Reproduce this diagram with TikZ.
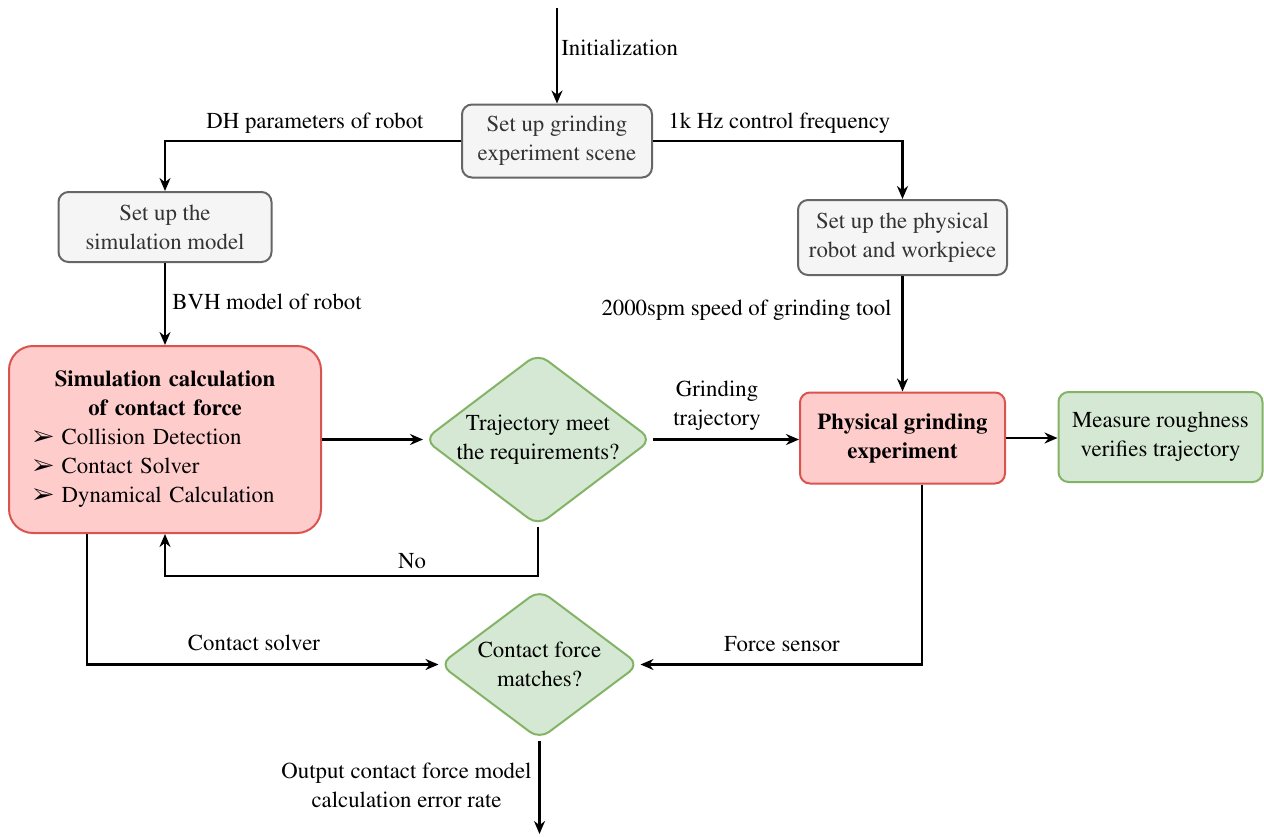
\documentclass[tikz,border=0pt]{standalone}
\usepackage[T1]{fontenc}
\renewcommand{\rmdefault}{ptm}
\usepackage{pifont}
\usetikzlibrary{shapes.geometric,arrows.meta}

\definecolor{greyfill}{HTML}{F5F5F5}
\definecolor{greyline}{HTML}{666666}
\definecolor{greytext}{HTML}{333333}
\definecolor{redfill}{HTML}{FFCCCC}
\definecolor{redline}{HTML}{D9534F}
\definecolor{greenfill}{HTML}{D5E8D4}
\definecolor{greenline}{HTML}{82B366}

\newcommand{\itemarrow}{\ding{226}\ }

\begin{document}
\begin{tikzpicture}[
  x = 0.5pt, y = -0.5pt,
  every node/.style = {font = \rmfamily\fontsize{11.4}{14.5}\selectfont},
  greybox/.style = {draw = greyline, fill = greyfill, text = greytext,
                    rounded corners = 5pt, align = center, line width = 1pt},
  redbox/.style = {draw = redline, fill = redfill, rounded corners = 5pt,
                   align = center, line width = 1pt},
  greenbox/.style = {draw = greenline, fill = greenfill, rounded corners = 5pt,
                     align = center, line width = 1pt},
  decision/.style = {diamond, draw = greenline, fill = greenfill, align = center,
                     rounded corners = 6pt, inner sep = 0pt, line width = 1pt},
  flow/.style = {draw, line width = 1.1pt, -{Stealth[length = 6.5pt, width = 5.5pt]}},
  lbl/.style = {inner sep = 0pt},
  ]
  \useasboundingbox (0,0) rectangle (1264,836);

  % boxes
  \node[greybox, minimum width = 95pt, minimum height = 36.5pt] (scene) at (557,141)
    {Set up grinding\\experiment scene};
  \node[greybox, minimum width = 106.5pt, minimum height = 35pt] (simmodel) at (165,227)
    {Set up the\\simulation model};
  \node[greybox, minimum width = 104.5pt, minimum height = 37.5pt] (physical) at (902.5,237.5)
    {Set up the physical\\robot and workpiece};
  \node[redbox, rounded corners = 12pt, minimum width = 156pt, minimum height = 93.5pt,
        text width = 132pt, align = left] (sim) at (165,439.5)
    {\centering\textbf{Simulation calculation}\\\textbf{of contact force}\par
     \raggedright\itemarrow Collision Detection\\
     \itemarrow Contact Solver\\
     \itemarrow Dynamical Calculation\par};
  \node[redbox, minimum width = 102.5pt, minimum height = 45.5pt] (exper) at (902.5,438)
    {\textbf{Physical grinding}\\\textbf{experiment}};
  \node[greenbox, minimum width = 102pt, minimum height = 45pt] (measure) at (1160.5,437)
    {Measure roughness\\verifies trajectory};
  \node[decision, aspect = 1.32, minimum width = 111pt, minimum height = 85pt] (traj) at (538,439.5)
    {Trajectory meet\\the requirements?};
  \node[decision, aspect = 1.33, minimum width = 100pt, minimum height = 75pt] (contact) at (539.5,664.5)
    {Contact force\\matches?};

  \coordinate (start) at (557,8);
  \coordinate (noturn) at (538,576);
  \coordinate (finish) at (539.5,834);

  % connectors
  \draw[flow] (start) -- (scene);
  \draw[flow] (scene.west) -| (simmodel.north);
  \draw[flow] (scene.east) -| (physical.north);
  \draw[flow] (simmodel.south) -- (sim.north);
  \draw[flow] (physical.south) -- (physical.south |- exper.north);
  \draw[flow] (sim.east) -- (traj.west);
  \draw[flow] (traj.east) -- (traj.east -| exper.west);
  \draw[flow] (exper.east) -- (exper.east -| measure.west);
  \draw[flow] (traj.south) -- (noturn) -| (sim.south);
  \draw[flow] ([xshift = 39.5pt]sim.south west) |- (contact.west);
  \draw[flow] ([xshift = 9.75pt]exper.south) |- (contact.east);
  \draw[flow] (contact.south) -- (finish);

  % labels
  \node[lbl, anchor = base west] (initlabel) at (561,55) {Initialization};
  \node[lbl, anchor = base east] (dhlabel) at (424,128) {DH parameters of robot};
  \node[lbl, anchor = base west] (freqlabel) at (668,128) {1k Hz control frequency};
  \node[lbl, anchor = base west] (bvhlabel) at (172,309) {BVH model of robot};
  \node[lbl, anchor = base east] (speedlabel) at (892,315) {2000spm speed of grinding tool};
  \node[lbl, align = center] (trajlabel) at (717,406) {Grinding\\trajectory};
  \node[lbl] (nolabel) at (412,561) {No};
  \node[lbl] (solverlabel) at (254,643) {Contact solver};
  \node[lbl] (sensorlabel) at (782,644) {Force sensor};
  \node[lbl, align = center, anchor = east] (outlabel) at (532,785)
    {Output contact force model\\calculation error rate};
\end{tikzpicture}
\end{document}
